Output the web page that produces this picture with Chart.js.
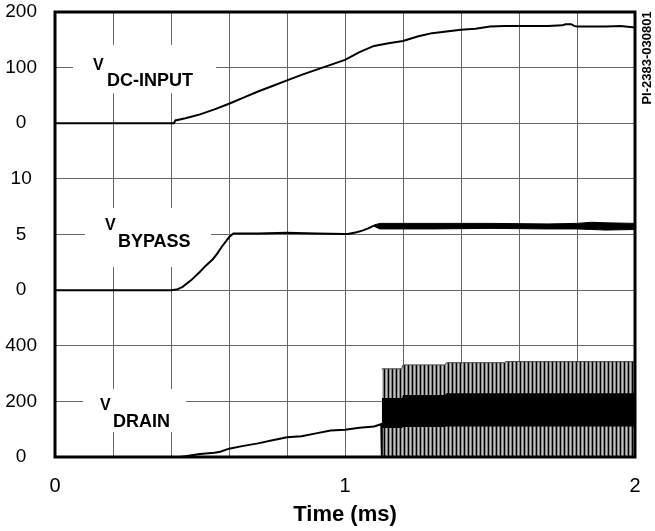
<!DOCTYPE html>
<html>
<head>
<meta charset="utf-8">
<style>
  html, body { margin: 0; padding: 0; background: #fff; }
  canvas { display: block; }
</style>
<script src="https://cdn.jsdelivr.net/npm/chart.js@4/dist/chart.umd.min.js"></script>
</head>
<body>
<canvas id="c" width="655" height="531"></canvas>
<script>
// ---------- DATA ----------
// Y tick labels of the three stacked panels, bottom to top (one per grid division)
const yTickLabels = ['0', '200', '400', '0', '5', '10', '0', '100', '200'];

// V DC-INPUT (V) vs time (ms)
const dcTime   = [0, 0.41, 0.415, 0.45, 0.5, 0.55, 0.6, 0.65, 0.7, 0.75, 0.8, 0.85, 0.9, 0.95, 1.0, 1.05, 1.1, 1.15, 1.2, 1.25, 1.3, 1.35, 1.4, 1.45, 1.5, 1.55, 1.6, 1.7, 1.75, 1.76, 1.78, 1.79, 1.8, 1.85, 1.9, 1.95, 2.0];
const dcValues = [0, 0, 5, 9, 16, 25, 35, 46, 57, 67, 77, 87, 96, 105, 114, 128, 139, 144, 148, 156, 162, 165, 168, 170, 174, 175, 175, 175, 176, 178, 178, 175, 174, 174, 174, 175, 172];

// V BYPASS (V) vs time (ms) – clean part
const bypassTime   = [0, 0.4, 0.42, 0.44, 0.47, 0.5, 0.52, 0.545, 0.56, 0.575, 0.59, 0.6, 0.615, 0.7, 0.8, 0.9, 1.0, 1.01, 1.04, 1.06, 1.08, 1.1];
const bypassValues = [0, 0, 0.05, 0.3, 0.9, 1.65, 2.2, 2.8, 3.3, 3.9, 4.4, 4.75, 5.1, 5.1, 5.15, 5.1, 5.05, 5.05, 5.2, 5.35, 5.55, 5.8];
// V BYPASS noisy band once switching starts
const bypassBandTime  = [1.1, 1.12, 1.3, 1.5, 1.7, 1.8, 1.85, 1.9, 2.0];
const bypassBandUpper = [5.85, 6.0, 6.0, 6.0, 5.95, 6.0, 6.1, 6.05, 6.0];
const bypassBandLower = [5.75, 5.5, 5.5, 5.55, 5.5, 5.5, 5.45, 5.4, 5.45];

// V DRAIN (V) vs time (ms) – before switching
const drainTime   = [0, 0.43, 0.45, 0.5, 0.55, 0.57, 0.6, 0.65, 0.7, 0.75, 0.8, 0.85, 0.9, 0.95, 1.0, 1.05, 1.1, 1.125, 1.127];
const drainValues = [0, 0, 3, 11, 15, 19, 30, 40, 49, 60, 71, 75, 85, 95, 98, 105, 110, 118, 0];
// V DRAIN switching: peak envelope and dense ringing band
const drainPeakTime   = [1.127, 1.195, 1.2, 1.345, 1.35, 1.55, 1.555, 2.0];
const drainPeakValues = [317, 317, 331, 331, 339, 339, 343, 343];
const drainBandTime   = [1.127, 1.197, 1.2, 1.345, 1.35, 2.0];
const drainBandUpper  = [212, 212, 223, 223, 229, 229];
const drainBandLower  = [104, 104, 108, 108, 110, 110];

// Panel offsets (grid divisions) and volts per division
const PANEL = {
  dc:     { offset: 6, perDiv: 100 },
  bypass: { offset: 3, perDiv: 5 },
  drain:  { offset: 0, perDiv: 200 }
};

// ---------- helpers ----------
function series(times, values, panel) {
  return times.map((t, i) => ({ x: t, y: panel.offset + values[i] / panel.perDiv }));
}

function stripePattern() {
  const c = document.createElement('canvas');
  c.width = 4; c.height = 4;
  const g = c.getContext('2d');
  const cols = ['#000', '#8a8a8a', '#c4c4c4', '#7a7a7a'];
  cols.forEach((col, i) => { g.fillStyle = col; g.fillRect(i, 0, 1, 4); });
  return g.createPattern(c, 'repeat');
}

const FONT = "'Liberation Sans', Arial, Helvetica, sans-serif";

// Annotation labels (positions in data units: x in ms, y in grid divisions)
const traceLabels = [
  { main: 'V', sub: 'DC-INPUT', box: [0.062, 0.555, 6.54, 7.41], vx: 0.131, vy: 6.957, sx: 0.179, sy: 6.67 },
  { main: 'V', sub: 'BYPASS',   box: [0.103, 0.538, 3.416, 4.476], vx: 0.172, vy: 4.081, sx: 0.217, sy: 3.781 },
  { main: 'V', sub: 'DRAIN',    box: [0.097, 0.452, 0.449, 1.222], vx: 0.155, vy: 0.845, sx: 0.200, sy: 0.545 }
];

const labelPlugin = {
  id: 'traceLabels',
  beforeDatasetsDraw(chart) {
    const ctx = chart.ctx, xs = chart.scales.x, ys = chart.scales.y;
    ctx.save();
    traceLabels.forEach(l => {
      const x0 = xs.getPixelForValue(l.box[0]), x1 = xs.getPixelForValue(l.box[1]);
      const y0 = ys.getPixelForValue(l.box[3]), y1 = ys.getPixelForValue(l.box[2]);
      ctx.fillStyle = '#fff';
      ctx.fillRect(x0, y0, x1 - x0, y1 - y0);
      ctx.fillStyle = '#000';
      ctx.textBaseline = 'alphabetic';
      ctx.textAlign = 'left';
      ctx.font = 'bold 16px ' + FONT;
      ctx.fillText(l.main, xs.getPixelForValue(l.vx), ys.getPixelForValue(l.vy));
      ctx.font = 'bold 18px ' + FONT;
      ctx.fillText(l.sub, xs.getPixelForValue(l.sx), ys.getPixelForValue(l.sy));
    });
    ctx.restore();
  },
  afterDraw(chart) {
    const ctx = chart.ctx, a = chart.chartArea;
    ctx.save();
    ctx.strokeStyle = '#000';
    ctx.lineWidth = 3;
    ctx.strokeRect(a.left, a.top, a.right - a.left, a.bottom - a.top);
    // drawing reference number, rotated
    ctx.translate(a.right + 12, a.top + 46);
    ctx.rotate(-Math.PI / 2);
    ctx.font = 'bold 13px ' + FONT;
    ctx.fillStyle = '#000';
    ctx.textAlign = 'center';
    ctx.textBaseline = 'middle';
    ctx.fillText('PI-2383-030801', 0, 0);
    ctx.restore();
  }
};

const lineStyle = { borderColor: '#000', pointRadius: 0, tension: 0, fill: false };

new Chart(document.getElementById('c'), {
  type: 'line',
  data: {
    datasets: [
      Object.assign({ label: 'V DC-INPUT', data: series(dcTime, dcValues, PANEL.dc), borderWidth: 2 }, lineStyle),
      Object.assign({ label: 'V BYPASS', data: series(bypassTime, bypassValues, PANEL.bypass), borderWidth: 2 }, lineStyle),
      Object.assign({ label: 'V DRAIN', data: series(drainTime, drainValues, PANEL.drain), borderWidth: 2 }, lineStyle),
      // bypass noisy band
      { label: 'bypass lower', data: series(bypassBandTime, bypassBandLower, PANEL.bypass), borderColor: '#000', borderWidth: 1, pointRadius: 0, fill: false },
      { label: 'bypass upper', data: series(bypassBandTime, bypassBandUpper, PANEL.bypass), borderColor: '#000', borderWidth: 1, pointRadius: 0, backgroundColor: '#000', fill: '-1' },
      // drain ringing band
      { label: 'drain band lower', data: series(drainBandTime, drainBandLower, PANEL.drain), borderColor: '#000', borderWidth: 0, pointRadius: 0, fill: false },
      { label: 'drain band upper', data: series(drainBandTime, drainBandUpper, PANEL.drain), borderColor: '#000', borderWidth: 0, pointRadius: 0, backgroundColor: '#000', fill: '-1' },
      // drain switching peaks
      { label: 'drain peaks', data: series(drainPeakTime, drainPeakValues, PANEL.drain), borderColor: '#444', borderWidth: 1, pointRadius: 0, backgroundColor: stripePattern(), fill: 'origin' }
    ]
  },
  options: {
    responsive: false,
    animation: false,
    devicePixelRatio: 1,
    layout: { padding: { left: 0, right: 20, top: 12, bottom: 0 } },
    plugins: { legend: { display: false }, tooltip: { enabled: false } },
    scales: {
      x: {
        type: 'linear',
        min: 0, max: 2,
        afterFit(scale) { scale.height = 74; scale.paddingLeft = 0; scale.paddingRight = 0; },
        grid: { color: '#666', lineWidth: 1, drawTicks: false },
        border: { display: false },
        ticks: {
          stepSize: 0.2,
          autoSkip: false,
          maxRotation: 0,
          padding: 17,
          color: '#000',
          font: { family: FONT, size: 20 },
          callback: v => Math.abs(v - Math.round(v)) < 1e-6 ? String(Math.round(v)) : ''
        },
        title: {
          display: true,
          text: 'Time (ms)',
          color: '#000',
          font: { family: FONT, size: 22, weight: 'bold' },
          padding: { top: 0, bottom: 3 }
        }
      },
      y: {
        type: 'linear',
        min: 0, max: 8,
        afterFit(scale) { scale.width = 55; scale.paddingTop = 0; scale.paddingBottom = 0; },
        grid: { color: '#666', lineWidth: 1, drawTicks: false },
        border: { display: false },
        ticks: {
          stepSize: 1,
          autoSkip: false,
          padding: 18,
          crossAlign: 'center',
          color: '#000',
          font: { family: FONT, size: 19 },
          callback: v => yTickLabels[Math.round(v)] ?? ''
        }
      }
    }
  },
  plugins: [labelPlugin]
});
</script>
</body>
</html>
